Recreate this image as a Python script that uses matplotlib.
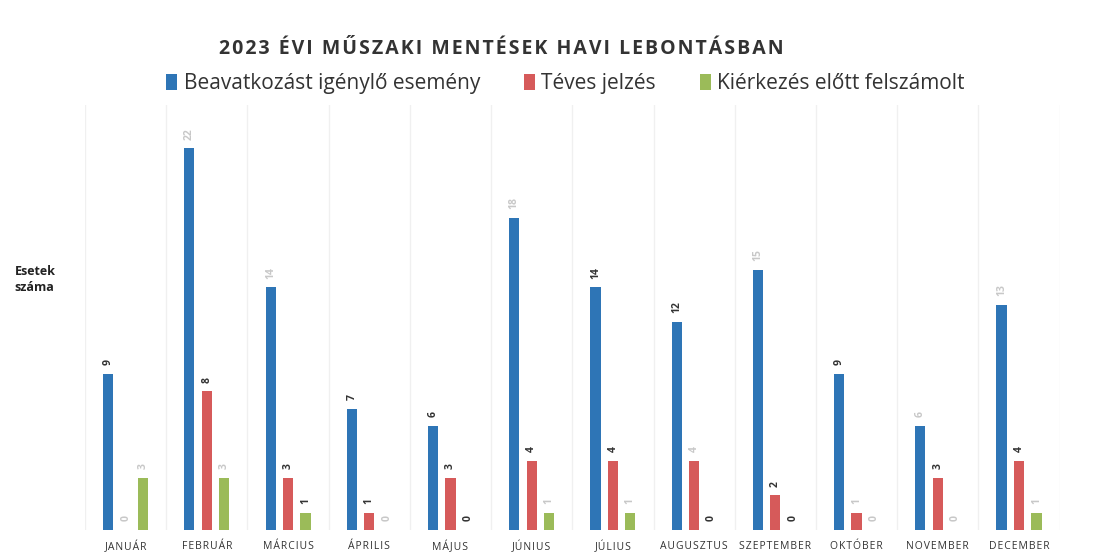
import matplotlib
matplotlib.use("Agg")
import matplotlib.pyplot as plt
import numpy as np

months = ["JANUÁR", "FEBRUÁR", "MÁRCIUS", "ÁPRILIS", "MÁJUS", "JÚNIUS",
          "JÚLIUS", "AUGUSZTUS", "SZEPTEMBER", "OKTÓBER", "NOVEMBER", "DECEMBER"]
beavatkozas = [9, 22, 14, 7, 6, 18, 14, 12, 15, 9, 6, 13]
teves = [0, 8, 3, 1, 3, 4, 4, 4, 2, 1, 3, 4]
kierkezes = [3, 3, 1, 0, 0, 1, 1, 0, 0, 0, 0, 1]
series_names = ["Beavatkozást igénylő esemény", "Téves jelzés", "Kiérkezés előtt felszámolt"]
title = "2023 ÉVI MŰSZAKI MENTÉSEK HAVI LEBONTÁSBAN"

# label visibility in the scanned original (True = faint)
faint_blue = [False, True, True, False, False, True, False, False, True, False, True, True]
faint_red = [True, False, False, False, False, False, False, True, False, True, False, False]
faint_green = [True, True, False, True, False, True, True, False, False, True, True, True]

colors = ["#2E75B6", "#D65A5A", "#9BBB59"]

plt.rcParams['font.family'] = ['Open Sans', 'DejaVu Sans']
fig = plt.figure(figsize=(11.13, 5.54), dpi=100)
ax = fig.add_axes([0.0764, 0.0433, 0.8756, 0.767])


def spaced(s, sep="\u200a"):
    return sep.join(s)


x = np.arange(len(months))
w = 0.125
off = 0.215
data = [beavatkozas, teves, kierkezes]
faints = [faint_blue, faint_red, faint_green]
for i, (vals, c, name, fl) in enumerate(zip(data, colors, series_names, faints)):
    pos = x + (i - 1) * off
    ax.bar(pos, vals, width=w, color=c, label=name, zorder=2)
    for p, v, f in zip(pos, vals, fl):
        ax.text(p, v + 0.5, str(v), rotation=90, ha='center', va='bottom',
                fontsize=7.5, fontweight='bold',
                color='#c8c8c8' if f else '#333333')

ax.set_xlim(-0.5, len(months) - 0.5)
ax.set_ylim(0, 24.5)
for b in np.arange(-0.5, len(months) + 0.5, 1):
    ax.axvline(b, color='#f0f0f0', lw=1, zorder=0)
ax.set_yticks([])
ax.set_xticks(x)
ax.set_xticklabels([spaced(m) for m in months], fontsize=7.5, color='#333333')
ax.tick_params(axis='x', length=0, pad=8)
for s in ax.spines.values():
    s.set_visible(False)

fig.text(0.450, 0.912, spaced(title), ha='center', va='center',
         fontsize=14, fontweight='bold', color='#333333')
leg = fig.legend(loc='center', bbox_to_anchor=(0.508, 0.849), ncol=3, frameon=False,
                 fontsize=15, handlelength=0.55, handleheight=0.85, handletextpad=0.3,
                 columnspacing=2.1)
for t in leg.get_texts():
    t.set_color('#333333')
fig.text(0.013, 0.495, "Esetek\nszáma", ha='left', va='center', fontsize=9,
         fontweight='bold', color='#222222', linespacing=1.3)

fig.savefig("out.png", dpi=100)
